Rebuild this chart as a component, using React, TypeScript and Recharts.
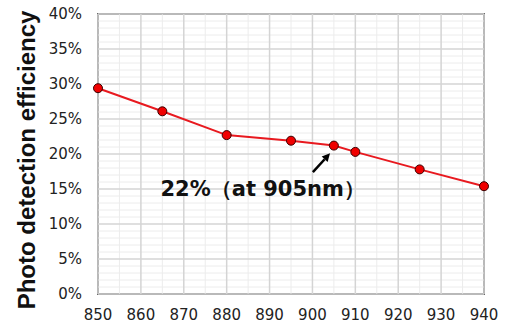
import React from 'react';
import { LineChart, Line, XAxis, YAxis, ReferenceLine, ReferenceArea, ReferenceDot } from 'recharts';

const wavelengths = [850, 865, 880, 895, 905, 910, 925, 940];
const efficiency = [29.4, 26.1, 22.7, 21.9, 21.2, 20.3, 17.8, 15.4];
const xTicks = [850, 860, 870, 880, 890, 900, 910, 920, 930, 940];
const yTicks = [0, 5, 10, 15, 20, 25, 30, 35, 40];
const xMinor = [855, 865, 875, 885, 895, 905, 915, 925, 935];
const yMinor = [1, 2, 3, 4, 6, 7, 8, 9, 11, 12, 13, 14, 16, 17, 18, 19, 21, 22, 23, 24, 26, 27, 28, 29, 31, 32, 33, 34, 36, 37, 38, 39];
const annotationText = '22%（at 905nm）';
const annotationPos = { x: 888.4, y: 15.1 };
const arrowFrom = { x: 900.1, y: 17.4 };
const arrowTo = { x: 904.1, y: 20.1 };

const data = wavelengths.map((w, i) => ({ w, v: efficiency[i] }));

const FONT = '"DejaVu Sans", Verdana, sans-serif';
const LABEL_FONT = '"Liberation Sans", Arial, sans-serif';

const Arrow = (props: any) => {
  const { x1, y1, x2, y2 } = props;
  const dx = x2 - x1;
  const dy = y2 - y1;
  const len = Math.sqrt(dx * dx + dy * dy);
  const ux = dx / len;
  const uy = dy / len;
  const hl = 8;
  const hw = 4;
  const bx = x2 - ux * hl;
  const by = y2 - uy * hl;
  const p1 = `${bx - uy * hw},${by + ux * hw}`;
  const p2 = `${bx + uy * hw},${by - ux * hw}`;
  return (
    <g>
      <line x1={x1} y1={y1} x2={bx} y2={by} stroke="#000" strokeWidth={2.5} />
      <polygon points={`${x2},${y2} ${p1} ${p2}`} fill="#000" />
    </g>
  );
};

export default function App() {
  return (
    <div style={{ position: 'absolute', left: 0, top: 0 }}>
      <LineChart width={509} height={330} data={data} margin={{ top: 14, right: 25, bottom: 0, left: 0 }}>
        {xMinor.map((x) => (
          <ReferenceLine key={'xm' + x} x={x} stroke="#ececec" strokeWidth={1} />
        ))}
        {yMinor.map((y) => (
          <ReferenceLine key={'ym' + y} y={y} stroke="#ececec" strokeWidth={1} />
        ))}
        {xTicks.map((x) => (
          <ReferenceLine key={'xM' + x} x={x} stroke="#d4d4d4" strokeWidth={1.5} />
        ))}
        {yTicks.map((y) => (
          <ReferenceLine key={'yM' + y} y={y} stroke="#d4d4d4" strokeWidth={1.5} />
        ))}
        <XAxis
          dataKey="w"
          type="number"
          domain={[850, 940]}
          ticks={xTicks}
          height={36}
          axisLine={false}
          tickLine={false}
          tickSize={0}
          tickMargin={15}
          tick={{ fontFamily: FONT, fontSize: 15, fill: '#222' }}
        />
        <YAxis
          type="number"
          domain={[0, 40]}
          ticks={yTicks}
          width={98}
          axisLine={false}
          tickLine={false}
          tickSize={0}
          tickMargin={16}
          tickFormatter={(v: number) => `${v}%`}
          tick={{ fontFamily: FONT, fontSize: 15, fill: '#222' }}
          label={{
            value: 'Photo detection efficiency',
            angle: -90,
            position: 'insideLeft',
            offset: 26,
            dy: 6,
            style: { fontFamily: LABEL_FONT, fontSize: 24, fontWeight: 'bold', fill: '#111', textAnchor: 'middle' },
          }}
        />
        <ReferenceArea x1={850} x2={940} y1={0} y2={40} fill="none" stroke="#6a6a6a" strokeWidth={2} ifOverflow="visible" />
        <ReferenceLine
          segment={[arrowFrom, arrowTo]}
          shape={Arrow}
          ifOverflow="visible"
        />
        <ReferenceDot
          x={annotationPos.x}
          y={annotationPos.y}
          r={0}
          fill="none"
          stroke="none"
          label={{
            value: annotationText,
            position: 'center',
            style: { fontFamily: FONT, fontSize: 21, fontWeight: 'bold', fill: '#111' },
          }}
        />
        <Line
          type="linear"
          dataKey="v"
          stroke="#e8191f"
          strokeWidth={2}
          isAnimationActive={false}
          dot={{ r: 4.5, fill: '#f00000', stroke: '#3a0000', strokeWidth: 1 }}
        />
      </LineChart>
    </div>
  );
}
